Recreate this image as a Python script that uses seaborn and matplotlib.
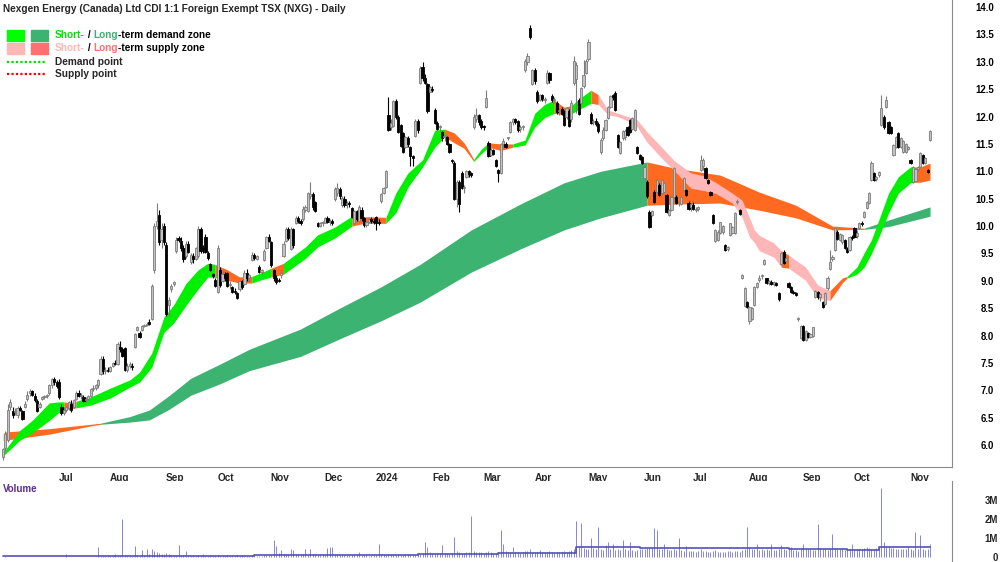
import numpy as np
import pandas as pd
import matplotlib
matplotlib.use("Agg")
import matplotlib.pyplot as plt
from matplotlib.patches import Rectangle
from matplotlib.lines import Line2D
from matplotlib.transforms import ScaledTranslation
import seaborn as sns

# ---- daily candles (trading days from 1 Jun 2023) ----
opens = [
    5.78, 5.95, 6.10, 6.70, 6.62, 6.60, 6.55, 6.68, 6.62, 6.70,
    6.85, 6.95, 6.98, 6.90, 6.80, 6.70, 6.85, 6.88, 6.90, 6.95,
    7.10, 7.20, 7.15, 7.15, 6.70, 6.58, 6.65, 6.68, 6.75, 6.70,
    6.85, 6.95, 6.90, 6.88, 6.82, 6.85, 6.90, 7.02, 7.05, 7.10,
    7.30, 7.58, 7.35, 7.38, 7.36, 7.45, 7.50, 7.48, 7.80, 7.75,
    7.78, 7.38, 7.45, 7.45, 7.80, 8.10, 8.05, 8.10, 8.18, 8.20,
    8.25, 8.30, 9.20, 10.00, 10.20, 9.75, 10.00, 9.65, 8.55, 8.85,
    8.95, 9.55, 9.78, 9.72, 9.60, 9.45, 9.68, 9.35, 9.45, 9.40,
    9.45, 9.95, 9.60, 9.80, 9.50, 9.30, 9.12, 9.02, 8.80, 9.20,
    9.00, 9.12, 9.14, 8.92, 8.88, 8.82, 8.78, 8.85, 9.00, 8.95,
    9.15, 9.05, 9.38, 9.48, 9.40, 9.25, 9.16, 9.38, 9.60, 9.80,
    9.70, 9.20, 9.05, 9.02, 9.10, 9.45, 9.72, 9.95, 9.58, 9.95,
    10.05, 10.15, 10.10, 10.12, 10.30, 10.28, 10.55, 10.58, 10.44, 10.05,
    10.00, 10.05, 10.06, 10.14, 10.08, 10.10, 10.50, 10.60, 10.68, 10.38,
    10.50, 10.40, 10.42, 10.33, 10.06, 10.28, 10.10, 10.30, 10.15, 10.02,
    10.08, 10.12, 10.10, 10.16, 10.08, 10.45, 10.60, 10.72, 12.03, 11.80,
    11.82, 12.28, 12.00, 11.84, 11.70, 11.45, 11.60, 11.44, 11.28, 11.64,
    11.92, 12.62, 12.90, 12.70, 12.60, 12.45, 12.50, 12.12, 11.88, 11.80,
    11.72, 11.62, 11.63, 11.50, 11.20, 11.15, 10.50, 10.80, 10.97, 10.70,
    10.90, 11.00, 10.96, 11.80, 11.95, 12.02, 11.92, 11.82, 12.17, 11.52,
    11.30, 11.38, 11.20, 11.02, 10.97, 11.50, 11.50, 11.60, 11.72, 11.90,
    11.95, 11.92, 11.78, 11.80, 12.85, 13.00, 13.62, 12.60, 12.85, 12.45,
    12.30, 12.40, 12.30, 12.62, 12.80, 12.38, 12.30, 12.25, 12.10, 12.14,
    12.10, 12.00, 12.10, 11.95, 12.62, 12.68, 12.30, 12.25, 12.55, 12.80,
    13.05, 12.05, 11.90, 11.92, 11.86, 11.35, 11.60, 11.76, 11.98, 12.17,
    12.40, 12.43, 11.66, 11.34, 11.60, 11.62, 11.81, 11.94, 11.78, 11.76,
    11.44, 11.30, 11.26, 10.88, 10.80, 10.26, 10.20, 10.62, 10.62, 10.75,
    10.60, 10.62, 10.56, 10.20, 10.29, 10.53, 10.53, 10.42, 10.40, 10.66,
    10.66, 10.42, 10.34, 10.38, 10.30, 10.32, 11.02, 11.10, 11.06, 10.84,
    10.62, 10.20, 9.72, 9.74, 9.87, 9.90, 9.65, 9.58, 9.84, 9.87,
    9.88, 10.44, 10.30, 9.06, 8.54, 8.62, 8.26, 8.30, 8.56, 8.88,
    9.02, 9.08, 9.30, 9.05, 8.96, 8.98, 8.94, 8.96, 8.78, 9.30,
    9.52, 9.36, 8.96, 8.88, 8.80, 8.76, 8.30, 7.96, 8.18, 7.92,
    8.04, 7.98, 8.00, 8.70, 8.80, 8.70, 8.61, 8.58, 8.86, 9.22,
    9.40, 9.56, 9.90, 9.74, 9.70, 9.74, 9.58, 9.56, 9.80, 9.96,
    9.82, 9.96, 10.06, 10.16, 10.33, 10.42, 10.84, 10.96, 10.86, 10.94,
    11.84, 12.00, 12.18, 11.90, 11.80, 11.30, 11.45, 11.70, 11.45, 11.36,
    11.36, 11.40, 11.20, 10.80, 10.82, 11.04, 11.08, 11.30, 11.16, 11.02,
    11.57,
]
highs = [
    5.95, 6.25, 6.75, 6.85, 6.70, 6.68, 6.72, 6.72, 6.65, 6.80,
    6.98, 7.02, 7.00, 6.95, 6.85, 6.78, 6.90, 6.92, 6.93, 7.12,
    7.22, 7.25, 7.18, 7.20, 6.75, 6.70, 6.72, 6.80, 6.82, 6.85,
    6.98, 7.00, 6.95, 6.92, 6.88, 6.92, 7.05, 7.10, 7.12, 7.20,
    7.62, 7.62, 7.42, 7.42, 7.45, 7.52, 7.55, 7.88, 7.90, 7.80,
    7.80, 7.50, 7.52, 7.50, 8.05, 8.18, 8.08, 8.20, 8.22, 8.25,
    8.30, 8.95, 10.05, 10.42, 10.30, 10.05, 10.05, 9.70, 8.70, 8.95,
    9.00, 9.80, 9.82, 9.80, 9.65, 9.72, 9.72, 9.50, 9.50, 9.62,
    10.00, 9.98, 9.65, 9.85, 9.55, 9.32, 9.15, 9.05, 9.65, 9.25,
    9.18, 9.16, 9.16, 9.00, 8.90, 8.86, 8.80, 9.02, 9.02, 9.20,
    9.22, 9.12, 9.52, 9.50, 9.48, 9.28, 9.22, 9.58, 9.82, 9.85,
    9.72, 9.22, 9.10, 9.05, 9.20, 9.72, 9.98, 9.98, 9.98, 9.97,
    10.18, 10.18, 10.12, 10.36, 10.38, 10.62, 10.80, 10.62, 10.46, 10.08,
    10.08, 10.10, 10.16, 10.18, 10.12, 10.12, 10.72, 10.78, 10.72, 10.55,
    10.54, 10.45, 10.45, 10.35, 10.30, 10.30, 10.38, 10.35, 10.16, 10.10,
    10.16, 10.16, 10.14, 10.18, 10.12, 10.60, 10.72, 11.02, 12.36, 11.95,
    12.30, 12.32, 12.02, 11.86, 11.72, 11.65, 11.64, 11.46, 11.30, 11.95,
    11.96, 12.92, 13.00, 12.78, 12.62, 12.56, 12.55, 12.15, 11.92, 11.85,
    11.74, 11.68, 11.65, 11.52, 11.22, 11.18, 10.85, 10.84, 11.00, 10.75,
    11.03, 11.02, 10.99, 12.04, 12.15, 12.05, 11.95, 11.85, 12.48, 11.55,
    11.42, 11.40, 11.22, 11.05, 11.52, 11.60, 11.53, 11.62, 11.92, 11.98,
    11.98, 11.94, 11.85, 11.85, 13.05, 13.16, 13.67, 12.87, 12.88, 12.48,
    12.42, 12.42, 12.35, 12.85, 12.82, 12.42, 12.35, 12.28, 12.15, 12.18,
    12.12, 12.18, 12.14, 12.30, 13.10, 13.00, 12.34, 12.54, 13.03, 13.05,
    13.42, 12.08, 11.96, 11.98, 11.90, 11.60, 11.80, 11.96, 12.20, 12.40,
    12.42, 12.46, 11.68, 11.55, 11.76, 11.78, 11.83, 11.96, 12.00, 12.14,
    11.46, 11.32, 11.28, 11.10, 10.84, 10.30, 10.30, 10.66, 10.86, 10.78,
    10.86, 10.80, 10.58, 10.32, 10.55, 11.08, 10.56, 10.46, 10.54, 10.90,
    10.68, 10.46, 10.42, 10.44, 10.34, 10.36, 11.30, 11.25, 11.08, 10.86,
    10.64, 10.22, 9.95, 9.92, 10.08, 10.02, 9.67, 9.64, 10.06, 10.00,
    10.26, 10.50, 10.32, 9.12, 8.88, 8.64, 8.54, 8.52, 8.90, 8.98,
    9.10, 9.12, 9.40, 9.06, 9.02, 9.02, 9.00, 8.98, 8.80, 9.52,
    9.56, 9.44, 8.98, 8.90, 8.84, 8.80, 8.34, 8.20, 8.20, 8.10,
    8.06, 8.04, 8.16, 8.84, 8.82, 8.78, 8.63, 8.79, 9.08, 9.56,
    9.48, 9.98, 9.92, 9.88, 9.86, 9.76, 9.62, 9.82, 9.84, 9.98,
    9.92, 10.08, 10.10, 10.28, 10.45, 10.62, 11.18, 10.98, 10.92, 11.00,
    12.40, 12.02, 12.38, 11.92, 11.82, 11.50, 11.64, 11.72, 11.62, 11.58,
    11.52, 11.46, 11.22, 11.09, 11.06, 11.10, 11.36, 11.32, 11.26, 11.04,
    11.76,
]
lows = [
    5.72, 5.90, 6.05, 6.65, 6.50, 6.55, 6.50, 6.62, 6.45, 6.68,
    6.80, 6.90, 6.90, 6.78, 6.60, 6.68, 6.82, 6.85, 6.86, 6.92,
    7.05, 7.10, 7.05, 6.85, 6.55, 6.55, 6.60, 6.65, 6.60, 6.68,
    6.82, 6.88, 6.85, 6.78, 6.78, 6.82, 6.88, 6.98, 7.00, 7.05,
    7.28, 7.30, 7.30, 7.33, 7.34, 7.42, 7.46, 7.46, 7.70, 7.60,
    7.36, 7.33, 7.40, 7.38, 7.78, 8.08, 7.95, 8.08, 8.15, 8.17,
    8.20, 8.28, 9.15, 9.95, 9.65, 9.60, 9.65, 8.35, 8.35, 8.80,
    8.90, 9.50, 9.70, 9.55, 9.35, 9.42, 9.50, 9.30, 9.32, 9.38,
    9.42, 9.50, 9.50, 9.50, 9.38, 9.18, 9.05, 8.88, 8.78, 8.88,
    8.98, 9.00, 8.88, 8.85, 8.78, 8.76, 8.66, 8.82, 8.85, 8.92,
    9.00, 9.00, 9.36, 9.38, 9.38, 9.14, 9.12, 9.36, 9.58, 9.70,
    9.25, 9.00, 8.95, 8.98, 9.05, 9.43, 9.70, 9.75, 9.56, 9.60,
    10.03, 10.05, 10.02, 10.10, 10.25, 10.26, 10.50, 10.30, 10.26, 9.98,
    9.98, 10.00, 10.05, 10.05, 10.02, 10.02, 10.46, 10.55, 10.50, 10.35,
    10.35, 10.33, 10.35, 10.14, 10.04, 10.10, 10.07, 10.10, 9.98, 9.98,
    10.05, 10.06, 10.04, 9.93, 10.02, 10.42, 10.58, 10.70, 11.74, 11.75,
    11.80, 11.95, 11.70, 11.44, 11.33, 11.43, 11.45, 11.10, 11.10, 11.62,
    11.70, 12.60, 12.65, 12.60, 12.06, 12.44, 12.45, 11.86, 11.75, 11.74,
    11.56, 11.56, 11.48, 11.33, 11.15, 10.47, 10.35, 10.26, 10.68, 10.60,
    10.88, 10.90, 10.90, 11.78, 11.90, 11.85, 11.78, 11.76, 12.15, 11.26,
    11.28, 11.30, 11.08, 10.80, 10.95, 11.45, 11.42, 11.58, 11.70, 11.85,
    11.86, 11.72, 11.72, 11.75, 12.82, 12.95, 13.42, 12.58, 12.60, 12.25,
    12.28, 12.28, 12.25, 12.60, 12.62, 12.27, 12.25, 12.05, 12.02, 12.03,
    11.82, 11.96, 11.80, 11.90, 12.58, 12.06, 12.02, 12.22, 12.52, 12.78,
    13.02, 11.86, 11.84, 11.82, 11.70, 11.32, 11.58, 11.74, 11.96, 12.15,
    12.30, 12.10, 11.42, 11.32, 11.58, 11.58, 11.64, 11.70, 11.76, 11.74,
    11.32, 11.20, 11.14, 10.86, 10.52, 9.96, 10.18, 10.42, 10.60, 10.54,
    10.58, 10.60, 10.24, 10.18, 10.27, 10.50, 10.40, 10.36, 10.38, 10.64,
    10.54, 10.30, 10.28, 10.30, 10.26, 10.28, 11.00, 11.02, 10.86, 10.76,
    10.54, 10.04, 9.70, 9.72, 9.85, 9.86, 9.55, 9.54, 9.82, 9.85,
    9.86, 10.40, 10.20, 9.04, 8.52, 8.50, 8.22, 8.28, 8.54, 8.86,
    8.98, 9.04, 9.28, 8.95, 8.92, 8.92, 8.90, 8.90, 8.64, 9.28,
    9.30, 9.34, 8.86, 8.78, 8.76, 8.72, 8.26, 7.94, 7.90, 7.90,
    7.96, 7.95, 7.98, 8.68, 8.66, 8.64, 8.50, 8.56, 8.84, 9.20,
    9.36, 9.54, 9.74, 9.72, 9.68, 9.58, 9.50, 9.54, 9.74, 9.78,
    9.78, 9.94, 10.00, 10.14, 10.31, 10.40, 10.82, 10.83, 10.82, 10.90,
    11.82, 11.78, 12.16, 11.68, 11.68, 11.28, 11.43, 11.43, 11.43, 11.34,
    11.34, 11.38, 11.14, 10.78, 10.80, 11.00, 11.06, 11.14, 11.14, 10.96,
    11.55,
]
closes = [
    5.92, 6.20, 6.65, 6.78, 6.55, 6.62, 6.68, 6.65, 6.48, 6.75,
    6.92, 6.98, 6.92, 6.82, 6.62, 6.75, 6.88, 6.90, 6.90, 7.10,
    7.20, 7.15, 7.08, 6.88, 6.58, 6.65, 6.70, 6.78, 6.65, 6.82,
    6.95, 6.90, 6.92, 6.80, 6.85, 6.90, 7.02, 7.05, 7.10, 7.18,
    7.58, 7.35, 7.38, 7.36, 7.43, 7.50, 7.48, 7.85, 7.75, 7.62,
    7.38, 7.45, 7.48, 7.42, 8.02, 8.15, 7.98, 8.18, 8.20, 8.22,
    8.22, 8.90, 10.00, 10.10, 9.70, 9.95, 9.70, 8.40, 8.65, 8.90,
    8.95, 9.75, 9.75, 9.60, 9.40, 9.68, 9.52, 9.48, 9.40, 9.60,
    9.95, 9.55, 9.58, 9.52, 9.42, 9.20, 9.08, 8.90, 9.60, 8.92,
    9.12, 9.05, 8.90, 8.95, 8.80, 8.80, 8.68, 9.00, 8.88, 9.15,
    9.05, 9.10, 9.48, 9.42, 9.45, 9.16, 9.20, 9.55, 9.80, 9.72,
    9.28, 9.05, 8.98, 9.00, 9.15, 9.68, 9.95, 9.78, 9.95, 9.65,
    10.15, 10.10, 10.05, 10.32, 10.35, 10.60, 10.58, 10.35, 10.28, 10.00,
    10.05, 10.08, 10.14, 10.08, 10.10, 10.05, 10.68, 10.70, 10.55, 10.52,
    10.38, 10.42, 10.40, 10.16, 10.28, 10.12, 10.35, 10.15, 10.02, 10.08,
    10.12, 10.10, 10.08, 10.06, 10.06, 10.58, 10.70, 11.00, 11.76, 11.88,
    12.28, 12.00, 11.72, 11.46, 11.35, 11.62, 11.50, 11.28, 11.25, 11.92,
    11.75, 12.88, 12.70, 12.62, 12.10, 12.54, 12.48, 11.88, 11.78, 11.82,
    11.60, 11.65, 11.50, 11.36, 11.18, 10.50, 10.80, 10.40, 10.70, 10.72,
    11.00, 10.95, 10.93, 12.00, 12.02, 11.90, 11.80, 11.80, 12.34, 11.28,
    11.38, 11.32, 11.10, 10.97, 11.50, 11.55, 11.45, 11.60, 11.90, 11.95,
    11.90, 11.75, 11.80, 11.82, 13.02, 13.10, 13.45, 12.85, 12.65, 12.28,
    12.40, 12.32, 12.30, 12.80, 12.66, 12.30, 12.32, 12.08, 12.12, 12.05,
    11.85, 12.15, 11.83, 12.25, 13.02, 12.95, 12.05, 12.52, 12.75, 13.02,
    13.36, 11.88, 11.92, 11.86, 11.74, 11.57, 11.76, 11.94, 12.17, 12.38,
    12.35, 12.12, 11.44, 11.53, 11.74, 11.74, 11.66, 11.72, 11.97, 12.12,
    11.34, 11.22, 11.16, 11.08, 10.54, 9.98, 10.28, 10.44, 10.84, 10.56,
    10.84, 10.78, 10.26, 10.29, 10.53, 11.06, 10.42, 10.44, 10.53, 10.88,
    10.56, 10.32, 10.40, 10.32, 10.32, 10.34, 11.20, 11.20, 10.88, 10.78,
    10.56, 10.05, 9.93, 9.90, 10.07, 10.00, 9.57, 9.62, 10.05, 9.98,
    10.24, 10.46, 10.22, 9.10, 8.87, 8.52, 8.52, 8.50, 8.89, 8.96,
    9.05, 9.10, 9.38, 8.96, 9.00, 8.94, 8.98, 8.92, 8.66, 9.50,
    9.32, 9.42, 8.88, 8.80, 8.78, 8.75, 8.32, 8.18, 7.92, 8.08,
    7.98, 8.02, 8.15, 8.82, 8.70, 8.76, 8.52, 8.78, 9.06, 9.34,
    9.44, 9.96, 9.76, 9.86, 9.84, 9.60, 9.52, 9.80, 9.78, 9.80,
    9.88, 10.06, 10.04, 10.26, 10.44, 10.60, 11.16, 10.85, 10.90, 10.98,
    12.16, 11.80, 12.30, 11.70, 11.70, 11.48, 11.62, 11.45, 11.60, 11.56,
    11.50, 11.44, 11.15, 11.07, 11.04, 11.08, 11.34, 11.16, 11.24, 10.98,
    11.74,
]
# volume, thousands of shares
volumes = [
    20, 35, 25, 15, 10, 12, 8, 15, 10, 12,
    18, 10, 8, 12, 15, 9, 7, 10, 12, 8,
    14, 10, 9, 12, 8, 15, 150, 10, 12, 9,
    11, 14, 9, 8, 12, 10, 15, 18, 20, 530,
    60, 45, 30, 40, 35, 50, 140, 60, 45, 2000,
    120, 80, 70, 60, 560, 90, 80, 350, 100, 400,
    150, 440, 300, 250, 230, 180, 160, 200, 140, 120,
    110, 90, 610, 130, 100, 300, 90, 80, 110, 70,
    90, 80, 140, 70, 60, 85, 75, 90, 100, 80,
    70, 65, 90, 80, 75, 60, 85, 70, 90, 80,
    75, 60, 95, 85, 70, 80, 65, 90, 100, 85,
    120, 880, 600, 200, 350, 150, 180, 160, 400, 350,
    140, 160, 130, 150, 440, 120, 440, 180, 150, 130,
    110, 140, 120, 490, 530, 530, 160, 140, 120, 130,
    100, 120, 110, 130, 150, 140, 270, 120, 100, 90,
    80, 110, 100, 120, 700, 150, 140, 130, 180, 160,
    140, 120, 150, 130, 110, 160, 140, 120, 130, 110,
    200, 180, 220, 790, 530, 250, 200, 180, 210, 190,
    610, 230, 200, 180, 220, 1050, 300, 250, 220, 200,
    240, 260, 2160, 300, 260, 280, 240, 220, 260, 300,
    250, 230, 200, 280, 1400, 700, 300, 260, 240, 530,
    280, 250, 230, 260, 300, 320, 440, 280, 260, 250,
    350, 240, 260, 280, 320, 250, 230, 270, 240, 260,
    300, 280, 320, 350, 400, 1880, 600, 1790, 500, 450,
    420, 1000, 480, 450, 1580, 400, 380, 610, 790, 420,
    700, 380, 420, 350, 880, 400, 380, 790, 360, 340,
    380, 420, 400, 450, 500, 480, 520, 1530, 1400, 450,
    420, 700, 400, 380, 350, 420, 380, 1000, 360, 340,
    560, 320, 300, 340, 280, 300, 400, 320, 300, 280,
    260, 300, 350, 280, 260, 240, 280, 300, 320, 260,
    300, 320, 280, 350, 400, 1580, 500, 450, 420, 700,
    380, 420, 360, 400, 380, 670, 350, 380, 400, 610,
    420, 380, 400, 530, 360, 380, 340, 400, 700, 450,
    400, 420, 380, 360, 1750, 500, 420, 400, 380, 450,
    1230, 500, 450, 420, 400, 380, 420, 400, 700, 450,
    420, 400, 450, 480, 530, 500, 450, 420, 480, 500,
    3630, 800, 600, 550, 500, 480, 450, 420, 400, 450,
    420, 530, 400, 380, 1320, 420, 1140, 400, 380, 420,
    700,
]
# average volume line (millions), step values
vol_avg_days = [0, 47, 103, 170, 203, 235, 261, 322, 346, 359, 380]
vol_avg = [0.03, 0.08, 0.12, 0.17, 0.21, 0.55, 0.47, 0.42, 0.38, 0.52, 0.52]

# ---- zones: G short demand, D long demand, P short supply, O long supply ----
short_days = [0, 7, 12, 19, 23, 25, 27, 30, 36, 44, 52, 56, 61, 66, 70, 75, 80, 84,
              87, 92, 97, 102, 106, 110, 115, 124, 129, 136, 143, 148, 157, 161,
              166, 172, 177, 181, 185, 189, 193, 196, 199, 204, 209, 214, 218, 222,
              226, 230, 233, 237, 241, 244, 248, 252, 256, 260, 264, 270, 275, 282,
              287, 292, 299, 303, 306, 308, 310, 316, 319, 322, 329, 334, 339, 344,
              346, 350, 353, 356, 359, 363, 367, 372, 374, 376, 380]
short_top = [5.86, 6.27, 6.45, 6.77, 6.79, 6.79, 6.77, 6.80, 6.88, 7.04, 7.19, 7.33,
             7.68, 8.34, 8.56, 8.95, 9.20, 9.32, 9.30, 9.20, 9.07, 9.08, 9.15, 9.23,
             9.32, 9.62, 9.84, 9.98, 10.18, 10.17, 10.16, 10.60, 10.97, 11.21, 11.75,
             11.77, 11.70, 11.52, 11.22, 11.40, 11.52, 11.50, 11.50, 11.57, 12.06,
             12.22, 12.30, 12.17, 12.20, 12.35, 12.48, 12.40, 12.12, 12.06, 12.00,
             11.94, 11.72, 11.44, 11.20, 10.97, 10.92, 10.80, 10.60, 10.47, 10.15,
             9.93, 9.83, 9.69, 9.55, 9.47, 9.25, 8.92, 8.82, 9.05, 9.08, 9.25, 9.51,
             9.75, 10.11, 10.60, 10.90, 11.08, 11.08, 11.08, 11.15]
short_bot = [5.80, 6.09, 6.22, 6.45, 6.60, 6.63, 6.66, 6.68, 6.73, 6.86, 7.06, 7.15,
             7.42, 8.06, 8.23, 8.55, 8.85, 9.07, 9.06, 9.01, 8.96, 8.96, 9.02, 9.07,
             9.12, 9.41, 9.62, 9.78, 10.00, 10.05, 10.05, 10.24, 10.71, 11.08, 11.44,
             11.63, 11.52, 11.42, 11.18, 11.32, 11.44, 11.38, 11.44, 11.48, 11.81,
             11.98, 12.06, 12.03, 12.05, 12.15, 12.24, 12.22, 12.03, 12.00, 11.92,
             11.81, 11.53, 11.24, 11.02, 10.69, 10.65, 10.60, 10.42, 10.16, 9.80,
             9.70, 9.55, 9.43, 9.25, 9.23, 9.01, 8.68, 8.64, 8.96, 9.05, 9.12, 9.25,
             9.50, 9.80, 10.24, 10.60, 10.79, 10.80, 10.80, 10.84]
short_zone = ["G", "G", "G", "G", "G", "O", "O", "G", "G", "G", "G", "G", "G", "G",
              "G", "G", "G", "G", "O", "O", "O", "G", "G", "O", "G", "G", "G", "G",
              "O", "O", "G", "G", "G", "G", "G", "O", "O", "O", "G", "G", "O", "O",
              "G", "G", "G", "G", "O", "O", "G", "G", "O", "P", "P", "P", "P", "P",
              "P", "P", "P", "P", "P", "P", "P", "P", "P", "P", "P", "P", "O", "P",
              "P", "P", "O", "O", "G", "G", "G", "G", "G", "G", "G", "G", "O", "O",
              "O"]

long_days = [0, 1, 19, 36, 40, 52, 60, 68, 77, 89, 101, 122, 138, 155, 171, 192, 212,
             230, 245, 264, 275, 294, 310, 325, 340, 353, 363, 380]
long_top = [6.22, 6.24, 6.30, 6.38, 6.40, 6.52, 6.64, 6.90, 7.22, 7.48, 7.75, 8.12,
            8.50, 8.89, 9.30, 9.93, 10.40, 10.79, 11.00, 11.17, 11.06, 10.93, 10.62,
            10.38, 10.00, 9.96, 10.11, 10.35]
long_bot = [6.08, 6.09, 6.20, 6.35, 6.38, 6.42, 6.46, 6.65, 6.91, 7.12, 7.36, 7.62,
            7.94, 8.27, 8.61, 9.16, 9.58, 9.93, 10.15, 10.38, 10.40, 10.42, 10.29,
            10.15, 9.93, 9.94, 9.99, 10.18]
long_zone = ["P", "O", "O", "O", "D", "D", "D", "D", "D", "D", "D", "D", "D", "D",
             "D", "D", "D", "D", "D", "O", "O", "O", "O", "O", "O", "D", "D", "D"]

zone_colors = {"G": "#00f000", "D": "#3cb371", "P": "#ffb6b6", "O": "#ff6a20"}

df = pd.DataFrame({"open": opens, "high": highs, "low": lows, "close": closes,
                   "volume": volumes})
df["date"] = pd.bdate_range("2023-06-01", periods=len(df))
df["day"] = np.arange(len(df))

sns.set_theme(style="white")
plt.rcParams["font.family"] = ["Liberation Sans", "DejaVu Sans"]
plt.rcParams["font.weight"] = "bold"

W, H = 1000, 562
fig = plt.figure(figsize=(10, 5.62), dpi=100, facecolor="white")
ax = fig.add_axes([0, 95 / H, 0.952, 467 / H])
axv = fig.add_axes([0, 0, 0.952, 81 / H])
grey = "#8a8a8a"


def draw_zone(days, top, bot, zone, z):
    days, top, bot = np.asarray(days), np.asarray(top), np.asarray(bot)
    start = 0
    for k in range(1, len(days)):
        if k == len(days) - 1 or zone[k] != zone[start]:
            ax.fill_between(days[start:k + 1], top[start:k + 1], bot[start:k + 1],
                            color=zone_colors[zone[start]], linewidth=0, zorder=z)
            start = k


draw_zone(long_days, long_top, long_bot, long_zone, 1)
draw_zone(short_days, short_top, short_bot, short_zone, 2)

# candles
up = df["close"] >= df["open"]
wick_c = np.where(up, "#7c7c7c", "black")
face_c = np.where(up, "#c2c2c2", "black")
body_lo = np.minimum(df["open"], df["close"])
body_h = np.maximum((df["close"] - df["open"]).abs(), 0.02)
ax.vlines(df["day"], df["low"], df["high"], colors=wick_c, linewidth=0.8, zorder=3)
ax.bar(df["day"], body_h, bottom=body_lo, width=0.9, color=face_c,
       edgecolor=wick_c, linewidth=0.6, zorder=4)

ax.set_xlim(-1.2, 389)
ax.set_ylim(5.6, 14.128)
ax.yaxis.tick_right()
yt = np.arange(6.0, 14.01, 0.5)
ax.set_yticks(yt)
ax.set_yticklabels([f"{v:.1f}" for v in yt])
ax.tick_params(axis="y", length=2, width=0.6, color=grey, pad=28, labelsize=6.9,
               labelcolor="black")
for lab in ax.get_yticklabels():
    lab.set_horizontalalignment("right")

# month ticks at the first trading day of each month
first = df.groupby(df["date"].dt.to_period("M"))["day"].first()
labels = []
for per in first.index:
    if per == first.index[0]:
        labels.append("")
    elif per.month == 1:
        labels.append(str(per.year))
    else:
        labels.append(per.strftime("%b"))
ax.set_xticks(first.values)
ax.set_xticklabels(labels, ha="left", fontsize=7.2, fontweight="bold")
ax.tick_params(axis="x", length=3, width=0.6, color=grey, pad=1)
shift = ScaledTranslation(2 / 100, 0, fig.dpi_scale_trans)
for lab in ax.get_xticklabels():
    lab.set_transform(lab.get_transform() + shift)

sns.despine(ax=ax, left=True, top=True, right=False, bottom=False)
for s in ("right", "bottom"):
    ax.spines[s].set_color(grey)
    ax.spines[s].set_linewidth(0.8)

# volume panel
axv.vlines(df["day"], 0, df["volume"] / 1000, colors="#8686d8", linewidth=0.7)
sns.lineplot(x=vol_avg_days, y=vol_avg, drawstyle="steps-post", color="#5252b8",
             linewidth=1.2, ax=axv)
axv.set_xlim(-1.2, 389)
axv.set_ylim(-0.26, 4.0)
axv.yaxis.tick_right()
axv.set_yticks([0, 1, 2, 3])
axv.set_yticklabels(["0", "1M", "2M", "3M"])
axv.tick_params(axis="y", length=2, width=0.6, color=grey, pad=31, labelsize=6.9)
for lab in axv.get_yticklabels():
    lab.set_horizontalalignment("right")
axv.set_xticks([])
sns.despine(ax=axv, left=True, top=True, right=False, bottom=True)
axv.spines["right"].set_color(grey)
axv.spines["right"].set_linewidth(0.8)
axv.text(0.003, 0.9, "Volume", transform=axv.transAxes, color="#5b2d8e",
         fontsize=7, fontweight="bold", va="center")

# title and legend
fig.text(3 / W, 1 - 9 / H, "Nexgen Energy (Canada) Ltd CDI 1:1 Foreign Exempt TSX (NXG) - Daily",
         fontsize=7.3, fontweight="bold", va="center", ha="left")


def fx(x):
    return x / W


def fy(y):
    return 1 - y / H


for yc, c1, c2 in [(35, "#00ff00", "#3cb371"), (48, "#ffb6b6", "#ff7070")]:
    fig.patches.append(Rectangle((fx(7), fy(yc + 5.5)), 17 / W, 11 / H,
                                 transform=fig.transFigure, color=c1))
    fig.patches.append(Rectangle((fx(31), fy(yc + 5.5)), 17 / W, 11 / H,
                                 transform=fig.transFigure, color=c2))
for yc, c in [(62, "#00e000"), (74, "#ff0000")]:
    fig.lines.append(Line2D([fx(7), fx(46)], [fy(yc), fy(yc)], transform=fig.transFigure,
                            color=c, linewidth=1.6, linestyle=(0, (1, 1))))


def rich_text(x, y, parts):
    # coloured pieces of one line, each placed right after the previous one
    t = fig.text(x, y, parts[0][0], color=parts[0][1], fontsize=7.3,
                 fontweight="bold", va="center", ha="left")
    for s, c in parts[1:]:
        t = ax.annotate(s, xy=(1, 0), xycoords=t, va="bottom", ha="left",
                        color=c, fontsize=7.3, fontweight="bold",
                        annotation_clip=False)
    return t


rich_text(fx(55), fy(35), [("Short-", "#00e000"), (" / ", "black"), ("Long", "#3cb371"),
                           ("-term demand zone", "black")])
rich_text(fx(55), fy(48), [("Short-", "#ffb6b6"), (" / ", "black"), ("Long", "#ff7070"),
                           ("-term supply zone", "black")])
fig.text(fx(55), fy(62), "Demand point", fontsize=7.3, fontweight="bold", va="center")
fig.text(fx(55), fy(74), "Supply point", fontsize=7.3, fontweight="bold", va="center")

fig.savefig("out.png", dpi=100, facecolor="white")
